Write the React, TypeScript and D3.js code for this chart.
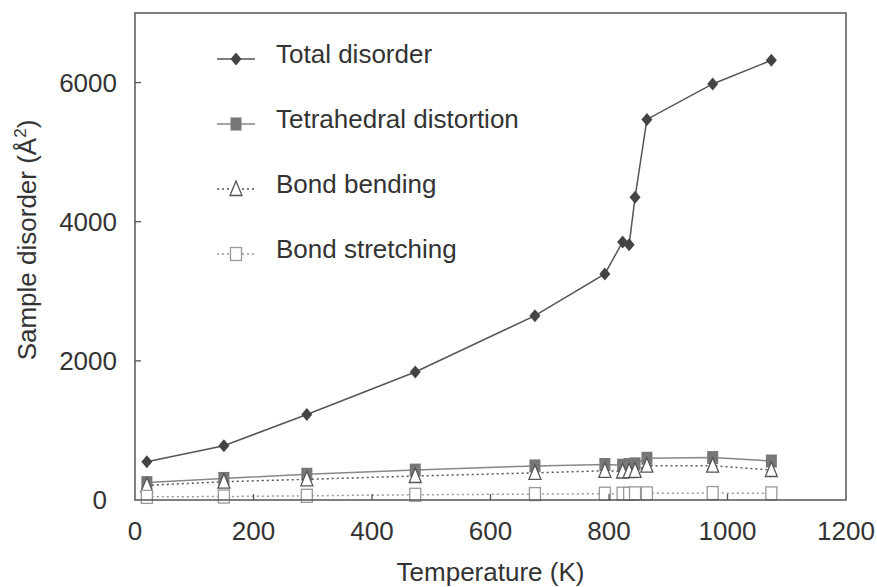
import React from "react";
import * as d3 from "d3";

// Temperature (K) of each measurement
const temperature = [20, 150, 290, 473, 675, 793, 823, 834, 844, 864, 975, 1074];
// Disorder contributions (Å²)
const totalDisorder = [550, 780, 1230, 1840, 2650, 3250, 3710, 3670, 4350, 5470, 5980, 6320];
const tetrahedralDistortion = [250, 310, 370, 430, 490, 510, 500, 510, 520, 600, 610, 560];
const bondBending = [210, 263, 297, 345, 390, 420, 410, 415, 420, 493, 493, 431];
const bondStretching = [45, 50, 60, 75, 85, 90, 90, 90, 95, 95, 100, 95];

const xTicks = [0, 200, 400, 600, 800, 1000, 1200];
const yTicks = [0, 2000, 4000, 6000];

const W = 877;
const H = 587;
const left = 135;
const right = 846;
const top = 13;
const bottom = 500;
const FONT = "'Liberation Sans', Arial, Helvetica, sans-serif";

const x = d3.scaleLinear().domain([0, 1200]).range([left, right]);
const y = d3.scaleLinear().domain([0, 7000]).range([bottom, top]);

type Pt = [number, number];
const pts = (vals: number[]): Pt[] => vals.map((v, i) => [temperature[i], v]);
const line = d3
  .line<Pt>()
  .x((d) => x(d[0]))
  .y((d) => y(d[1]));

const diamond = (cx: number, cy: number, key: string) => (
  <path
    key={key}
    d={`M${cx},${cy - 6.5}L${cx + 5.5},${cy}L${cx},${cy + 6.5}L${cx - 5.5},${cy}Z`}
    fill="#444"
  />
);
const filledSquare = (cx: number, cy: number, key: string) => (
  <rect key={key} x={cx - 5.5} y={cy - 6.5} width={11} height={13} fill="#777" />
);
const triangle = (cx: number, cy: number, key: string) => (
  <path
    key={key}
    d={`M${cx},${cy - 8}L${cx + 6},${cy + 6.5}L${cx - 6},${cy + 6.5}Z`}
    fill="#fff"
    stroke="#555"
    strokeWidth={1.3}
  />
);
const openSquare = (cx: number, cy: number, key: string) => (
  <rect
    key={key}
    x={cx - 5.5}
    y={cy - 6.5}
    width={11}
    height={13}
    fill="#fff"
    stroke="#999"
    strokeWidth={1.3}
  />
);

const series = [
  { name: "Tetrahedral distortion", vals: tetrahedralDistortion, color: "#888", dash: undefined, marker: filledSquare },
  { name: "Bond bending", vals: bondBending, color: "#555", dash: "2,3", marker: triangle },
  { name: "Bond stretching", vals: bondStretching, color: "#999", dash: "2,3", marker: openSquare },
  { name: "Total disorder", vals: totalDisorder, color: "#555", dash: undefined, marker: diamond },
];

const legendOrder = ["Total disorder", "Tetrahedral distortion", "Bond bending", "Bond stretching"];

export default function App() {
  return (
    <svg
      width={W}
      height={H}
      style={{ position: "absolute", left: 0, top: 0, background: "#fff" }}
      fontFamily={FONT}
    >
      <rect x={0} y={0} width={W} height={H} fill="#fff" />

      {/* series lines and markers */}
      {series.map((s) => (
        <g key={s.name}>
          <path
            d={line(pts(s.vals)) || ""}
            fill="none"
            stroke={s.color}
            strokeWidth={1.5}
            strokeDasharray={s.dash}
          />
          {pts(s.vals).map((p, i) => s.marker(x(p[0]), y(p[1]), `${s.name}-${i}`))}
        </g>
      ))}

      {/* frame */}
      <rect
        x={left}
        y={top}
        width={right - left}
        height={bottom - top}
        fill="none"
        stroke="#555"
        strokeWidth={1.5}
      />

      {/* x ticks */}
      {xTicks.map((t) => (
        <g key={`xt${t}`}>
          {t > 0 && t < 1200 && (
            <line x1={x(t)} x2={x(t)} y1={bottom} y2={bottom - 6} stroke="#555" strokeWidth={1.3} />
          )}
          <text x={x(t)} y={540} textAnchor="middle" fontSize={26} fill="#333">
            {t}
          </text>
        </g>
      ))}

      {/* y ticks */}
      {yTicks.map((t) => (
        <g key={`yt${t}`}>
          {t > 0 && (
            <line x1={left} x2={left + 6} y1={y(t)} y2={y(t)} stroke="#555" strokeWidth={1.3} />
          )}
          <text
            x={t === 0 ? 107 : 117}
            y={y(t)}
            dy="0.36em"
            textAnchor="end"
            fontSize={26}
            fill="#333"
          >
            {t}
          </text>
        </g>
      ))}

      {/* axis titles */}
      <text x={(left + right) / 2} y={581} textAnchor="middle" fontSize={26} fill="#333">
        Temperature (K)
      </text>
      <text
        transform={`translate(36,${240}) rotate(-90)`}
        textAnchor="middle"
        fontSize={26}
        fill="#333"
      >
        Sample disorder (Å
        <tspan fontSize={17} dy={-10}>
          2
        </tspan>
        <tspan dy={10}>)</tspan>
      </text>

      {/* legend */}
      {legendOrder.map((name, i) => {
        const s = series.find((d) => d.name === name)!;
        const ly = 59 + i * 65;
        return (
          <g key={`lg${name}`}>
            <line
              x1={217}
              x2={255}
              y1={ly}
              y2={ly}
              stroke={s.color}
              strokeWidth={1.5}
              strokeDasharray={s.dash}
            />
            {s.marker(236, ly, `lgm${i}`)}
            <text x={276} y={ly + 4} fontSize={26} fill="#333">
              {name}
            </text>
          </g>
        );
      })}
    </svg>
  );
}
